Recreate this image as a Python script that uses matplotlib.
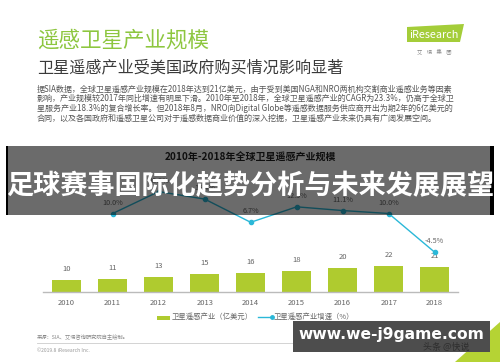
import matplotlib
matplotlib.use("Agg")
import matplotlib.pyplot as plt
from matplotlib.patches import Rectangle, Polygon
from matplotlib.lines import Line2D

plt.rcParams['font.family'] = ['Noto Sans CJK SC', 'DejaVu Sans']

# --- データ ---
years = ['2010', '2011', '2012', '2013', '2014', '2015', '2016', '2017', '2018']
scale = [10, 11, 13, 15, 16, 18, 20, 22, 21]          # 亿美元
growth_idx = [1, 2, 3, 4, 5, 6, 7, 8]                  # 2011-2018
growth = [10.0, 18.2, 15.4, 6.7, 12.5, 11.1, 10.0, -4.5]
growth_labels = ['10.0%', '18.2%', '15.4%', '6.7%', '12.5%', '11.1%', '10.0%', '-4.5%']

paragraph = [
    "据SIA数据，全球卫星遥感产业规模在2018年达到21亿美元，由于受到美国NGA和NRO两机构交割商业遥感业务等因素",
    "影响，产业规模较2017年同比增速有明显下滑。2010年至2018年，全球卫星遥感产业的CAGR为23.3%，仍高于全球卫",
    "星服务产业18.3%的复合增长率。但2018年8月，NRO向Digital Globe等遥感数据服务供应商开出为期2年的6亿美元的",
    "合同，以及各国政府和遥感卫星公司对于遥感数据商业价值的深入挖掘，卫星遥感产业未来仍具有广阔发展空间。",
]

W, H = 500, 362
GREEN = '#8dc63f'
BAR = '#afcb2f'
CYAN = '#2bb8d8'


def px(x, y):
    """ピクセル座標 (左上原点) を figure 座標へ"""
    return x / W, 1 - y / H


fig = plt.figure(figsize=(5, 3.62), dpi=100)
fig.patch.set_facecolor('white')

# --- ヘッダー ---
fig.text(*px(37, 41), "遥感卫星产业规模", color=GREEN, fontsize=15.5, va='center')
fig.text(*px(37, 68), "卫星遥感产业受美国政府购买情况影响显著", color='#3a3a3a', fontsize=11.6, va='center')
for i, line in enumerate(paragraph):
    fig.text(*px(37, 89 + i * 9.8), line, color='#555555', fontsize=5.8, va='center')

# ロゴ
fig.add_artist(Polygon([px(407, 27), px(464, 24), px(460, 42), px(407, 42)],
                       closed=True, transform=fig.transFigure, facecolor='#a4cd39',
                       edgecolor='none'))
fig.text(*px(434, 34.5), "iResearch", color='white', fontsize=7.8, ha='center', va='center')
fig.text(*px(434, 51), "艾    瑞    集    团", color='#888888', fontsize=3.8, ha='center', va='center')

# --- グラフ本体 ---
bottom = (H - 292.3) / H
top_px = 140
ax = fig.add_axes([43 / W, bottom, 415 / W, (292.3 - top_px) / H])
x = list(range(len(years)))
ax.bar(x, scale, width=0.63, color=BAR, zorder=2)
for xi, v in zip(x, scale):
    ax.annotate(str(v), (xi, v), xytext=(0, 5), textcoords='offset points',
                ha='center', va='bottom', fontsize=5.5, color='#666666')
ax.set_xlim(-0.515, 8.507)
ax.set_ylim(0, (292.3 - top_px) / 1.2)
ax.set_xticks(x)
ax.set_xticklabels(years, fontsize=5.5, color='#666666')
ax.tick_params(axis='x', length=0, pad=5)
ax.set_yticks([])
for s in ('left', 'right', 'top'):
    ax.spines[s].set_visible(False)
ax.spines['bottom'].set_color('#bbbbbb')
ax.spines['bottom'].set_linewidth(1.0)
ax.patch.set_visible(False)

ax2 = ax.twinx()
ax2.plot(growth_idx, growth, color=CYAN, lw=1.0, marker='o', markersize=3, zorder=3)
for xi, v, lab in zip(growth_idx, growth, growth_labels):
    ax2.annotate(lab, (xi, v), xytext=(0, 5), textcoords='offset points',
                 ha='center', va='bottom', fontsize=5.2, color='#666666')
ax2.set_ylim(10 - (292.3 - 213.5) / 2.67, 10 + (213.5 - top_px) / 2.67)
ax2.set_yticks([])
for s in ax2.spines.values():
    s.set_visible(False)

fig.text(*px(250, 158), "2010年-2018年全球卫星遥感产业规模", color='#222222',
         fontsize=7.2, fontweight='bold', ha='center', va='center')

# 凡例
fig.add_artist(Rectangle(px(157, 319.5), 13 / W, 4 / H, transform=fig.transFigure,
                         facecolor=BAR, edgecolor='none'))
fig.text(*px(172, 317), "卫星遥感产业（亿美元）", color='#666666', fontsize=5.3, va='center')
fig.add_artist(Line2D([258 / W, 272 / W], [1 - 317 / H] * 2, transform=fig.transFigure,
                      color=CYAN, lw=1.0, marker='o', markersize=2.5, markevery=[1]))
fig.text(*px(274, 317), "卫星遥感产业增速（%）", color='#666666', fontsize=5.3, va='center')

# 出典
fig.text(*px(37, 337), "来源：SIA、艾瑞咨询研究院自主绘制。", color='#888888', fontsize=3.8, va='center')
fig.add_artist(Line2D([37 / W, 468 / W], [1 - 343 / H] * 2, transform=fig.transFigure,
                      color='#cccccc', lw=0.6))
fig.text(*px(37, 351), "©2019.8 iResearch Inc.", color='#999999', fontsize=3.6, va='center')

# 右下の装飾
fig.add_artist(Polygon([px(455, 362), px(500, 322), px(500, 362)], closed=True,
                       transform=fig.transFigure, facecolor='#b5d334', edgecolor='none', zorder=4))

# --- オーバーレイ ---
fig.add_artist(Rectangle(px(7, 215.5), 486 / W, 69 / H, transform=fig.transFigure,
                         facecolor='black', alpha=0.58, edgecolor='none', zorder=5))
fig.add_artist(Rectangle(px(490, 215.5), 4 / W, 69 / H, transform=fig.transFigure,
                         facecolor='black', edgecolor='none', zorder=5))
fig.add_artist(Rectangle(px(6, 215.5), 1.5 / W, 69 / H, transform=fig.transFigure,
                         facecolor='black', edgecolor='none', zorder=5))
fig.text(*px(250, 186), "足球赛事国际化趋势分析与未来发展展望", color='white',
         fontsize=19.5, fontweight='bold', ha='center', va='center', zorder=6)

fig.add_artist(Rectangle(px(293, 352), 197 / W, 31 / H, transform=fig.transFigure,
                         facecolor='#4d4d4d', edgecolor='none', zorder=5))
fig.text(*px(391, 334), "www.we-j9game.com", color='white', fontsize=11.2,
         fontweight='bold', ha='center', va='center', zorder=6, family='DejaVu Sans')
fig.text(*px(446, 347), "头条 @快说", color='#2e2e2e', fontsize=6.5, ha='center',
         va='center', zorder=6)

fig.savefig("out.png", dpi=100)
